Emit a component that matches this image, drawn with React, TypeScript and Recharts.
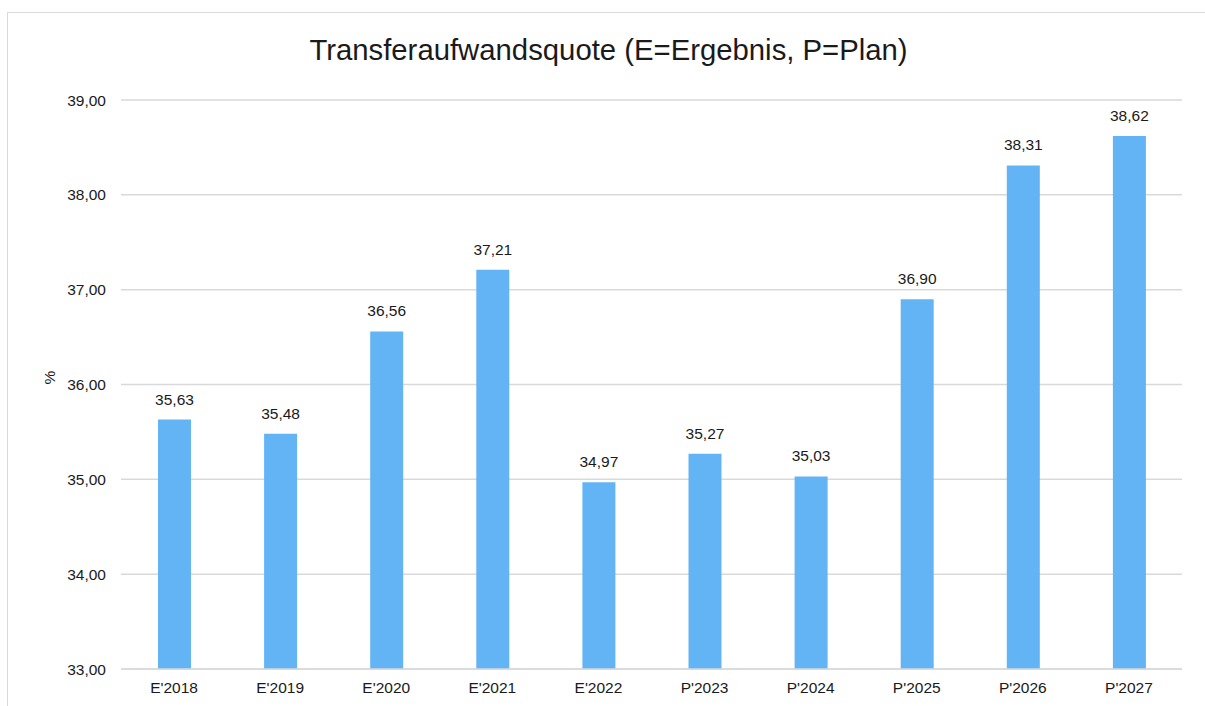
import React from 'react';
import { BarChart, Bar, XAxis, YAxis, CartesianGrid, LabelList } from 'recharts';

const categories = ["E'2018", "E'2019", "E'2020", "E'2021", "E'2022", "P'2023", "P'2024", "P'2025", "P'2026", "P'2027"];
const values = [35.63, 35.48, 36.56, 37.21, 34.97, 35.27, 35.03, 36.9, 38.31, 38.62];
const yTicks = [33, 34, 35, 36, 37, 38, 39];
const title = 'Transferaufwandsquote (E=Ergebnis, P=Plan)';
const yLabel = '%';

const data = categories.map((c, i) => ({ name: c, value: values[i] }));
const fmt = (v: number) => v.toFixed(2).replace('.', ',');

const FONT = '"Liberation Sans", Arial, sans-serif';
const TEXT = '#1a1a1a';

export default function App() {
  return (
    <div style={{ position: 'absolute', left: 0, top: 0, width: 1205, height: 706, overflow: 'hidden', background: '#fff' }}>
      <div style={{ position: 'absolute', left: 7, top: 12, width: 1400, height: 900, border: '1.5px solid #d9d9d9', boxSizing: 'border-box' }} />
      <div style={{ position: 'absolute', left: 0, top: 32, width: 1217, textAlign: 'center', fontFamily: FONT, fontSize: 29.3, color: TEXT, lineHeight: '36px' }}>
        {title}
      </div>
      <div style={{ position: 'absolute', left: 0, top: 0 }}>
        <BarChart width={1205} height={706} data={data} margin={{ top: 100, right: 23, bottom: 7, left: 51 }}>
          <CartesianGrid vertical={false} stroke="#d9d9d9" strokeWidth={1.5} />
          <XAxis
            dataKey="name"
            axisLine={{ stroke: '#d9d9d9', strokeWidth: 1.5 }}
            tickLine={false}
            tickSize={0}
            tickMargin={13}
            height={30}
            tick={{ fill: TEXT, fontSize: 15.5, fontFamily: FONT }}
            interval={0}
          />
          <YAxis
            domain={[33, 39]}
            ticks={yTicks}
            axisLine={false}
            tickLine={false}
            tickSize={0}
            tickMargin={15}
            width={70}
            tickFormatter={fmt}
            tick={{ fill: TEXT, fontSize: 15.5, fontFamily: FONT }}
            label={{ value: yLabel, angle: -90, position: 'insideLeft', offset: -2, style: { fill: TEXT, fontSize: 15.5, fontFamily: FONT } }}
          />
          <Bar dataKey="value" fill="#63b4f5" barSize={33} isAnimationActive={false}>
            <LabelList dataKey="value" position="top" offset={15} formatter={(v: any) => fmt(Number(v))} style={{ fill: TEXT, fontSize: 15.5, fontFamily: FONT }} />
          </Bar>
        </BarChart>
      </div>
    </div>
  );
}
